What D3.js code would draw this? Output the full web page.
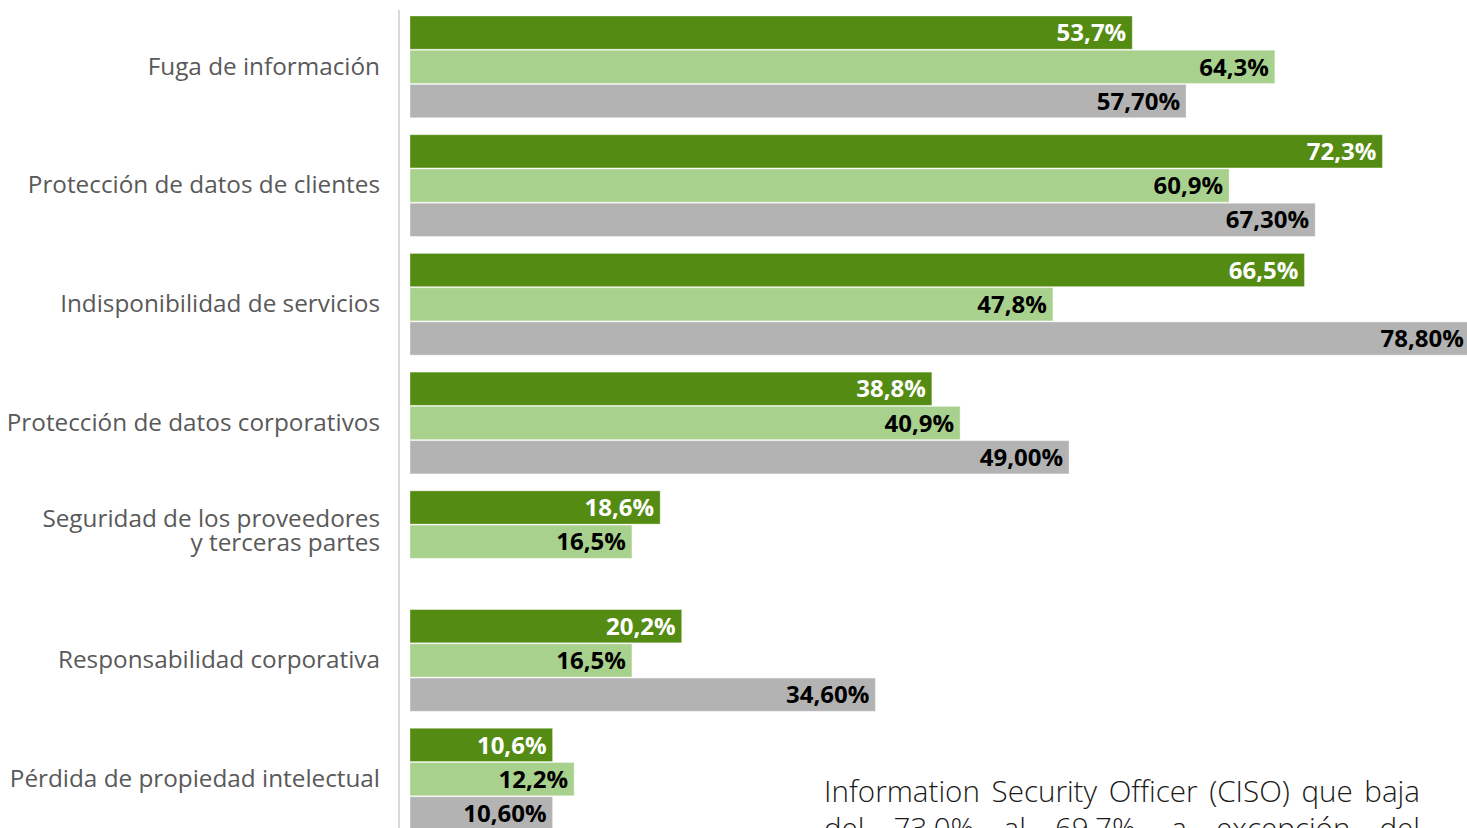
<!DOCTYPE html>
<html>
<head>
<meta charset="utf-8">
<script src="https://cdn.jsdelivr.net/npm/d3@7"></script>
<style>
  html, body { margin: 0; padding: 0; background: #fff; overflow: hidden; }
  svg { display: block; }
</style>
</head>
<body>
<svg id="chart" width="1467" height="828"></svg>
<script>
// Categories (top to bottom) and the three series of percentages
const categories = [
  "Fuga de información",
  "Protección de datos de clientes",
  "Indisponibilidad de servicios",
  "Protección de datos corporativos",
  "Seguridad de los proveedores\ny terceras partes",
  "Responsabilidad corporativa",
  "Pérdida de propiedad intelectual"
];
const seriesKeys = ["s1", "s2", "s3"];
const valuesS1 = [53.7, 72.3, 66.5, 38.8, 18.6, 20.2, 10.6];
const valuesS2 = [64.3, 60.9, 47.8, 40.9, 16.5, 16.5, 12.2];
const valuesS3 = [57.70, 67.30, 78.80, 49.00, null, 34.60, 10.60];
const labelsS1 = ["53,7%", "72,3%", "66,5%", "38,8%", "18,6%", "20,2%", "10,6%"];
const labelsS2 = ["64,3%", "60,9%", "47,8%", "40,9%", "16,5%", "16,5%", "12,2%"];
const labelsS3 = ["57,70%", "67,30%", "78,80%", "49,00%", "", "34,60%", "10,60%"];
const seriesColors = ["#548b12", "#a9d18e", "#b3b3b3"];
const labelColors = ["#ffffff", "#000000", "#000000"];
const bodyLines = [
  "Information Security Officer (CISO) que baja",
  "del 73,0% al 69,7%, a excepción del"
];

const svg = d3.select("#chart");

const x = d3.scaleLinear().domain([0, 80]).range([410, 410 + 80 * 13.45]);
const y = d3.scaleBand().domain(categories).range([16, 830]).paddingInner(0.143).paddingOuter(0);
const ySub = d3.scaleBand().domain(seriesKeys).range([0, y.bandwidth()]).paddingInner(0.03);

const rows = categories.map((c, i) => ({
  cat: c,
  bars: [
    { key: "s1", v: valuesS1[i], label: labelsS1[i], k: 0 },
    { key: "s2", v: valuesS2[i], label: labelsS2[i], k: 1 },
    { key: "s3", v: valuesS3[i], label: labelsS3[i], k: 2 }
  ].filter(b => b.v != null)
}));

// vertical baseline
svg.append("line")
  .attr("x1", 399).attr("x2", 399)
  .attr("y1", 10).attr("y2", 828)
  .attr("stroke", "#d9d9d9").attr("stroke-width", 2);

const groups = svg.selectAll("g.grp").data(rows).join("g")
  .attr("class", "grp")
  .attr("transform", d => `translate(0,${y(d.cat)})`);

groups.selectAll("rect").data(d => d.bars).join("rect")
  .attr("x", x(0))
  .attr("y", d => ySub(d.key))
  .attr("width", d => x(d.v) - x(0))
  .attr("height", ySub.bandwidth())
  .attr("fill", d => seriesColors[d.k])
  .attr("stroke", "#ffffff").attr("stroke-opacity", 0.35).attr("stroke-width", 1);

groups.selectAll("text.val").data(d => d.bars).join("text")
  .attr("class", "val")
  .attr("x", d => x(d.v) - 6)
  .attr("y", d => ySub(d.key) + ySub.bandwidth() / 2)
  .attr("dy", "0.36em")
  .attr("text-anchor", "end")
  .attr("font-family", "'Open Sans', 'Noto Sans', sans-serif")
  .attr("font-weight", 700)
  .attr("font-size", 24)
  .attr("fill", d => labelColors[d.k])
  .text(d => d.label);

// category labels
const catLabels = svg.selectAll("text.cat").data(categories).join("text")
  .attr("class", "cat")
  .attr("text-anchor", "end")
  .attr("font-family", "'Open Sans', 'Noto Sans', sans-serif")
  .attr("font-size", 24.3)
  .attr("fill", "#595959")
  .attr("transform", d => `translate(380,${y(d) + y.bandwidth() / 2 - 1})`);

catLabels.each(function(d) {
  const lines = d.split("\n");
  const t = d3.select(this);
  const lh = 24;
  const off = lines.length > 1 ? -10 - lh / 2 : 0;
  lines.forEach((ln, i) => {
    t.append("tspan").attr("x", 0).attr("y", off + i * lh).attr("dy", "0.36em").text(ln);
  });
});

// justified body text at the bottom right: words spread across the line width
const bodyX = 824, bodyW = 596;
const body = svg.append("g")
  .attr("font-family", "'Open Sans', 'Noto Sans', sans-serif")
  .attr("font-weight", 300)
  .attr("font-size", 29.6)
  .attr("fill", "#1a1a1a");
bodyLines.forEach((line, li) => {
  const words = line.split(" ");
  const t = body.append("text").attr("y", 802 + li * 37);
  const spans = words.map(w => t.append("tspan").text(w));
  const widths = spans.map(s => s.node().getComputedTextLength());
  const total = d3.sum(widths);
  const gap = (bodyW - total) / (words.length - 1);
  let cx = bodyX;
  spans.forEach((s, i) => {
    s.attr("x", cx);
    cx += widths[i] + gap;
  });
});
</script>
</body>
</html>
